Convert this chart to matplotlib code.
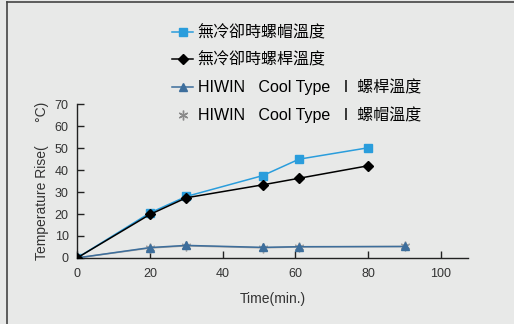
import matplotlib
matplotlib.use("Agg")
import matplotlib.pyplot as plt
from matplotlib.lines import Line2D

plt.rcParams['font.family'] = ['Liberation Sans Narrow', 'Liberation Sans', 'Noto Sans CJK TC', 'DejaVu Sans']

# data
t_hot = [0, 20, 30, 51, 61, 80]
nut_hot = [0, 20.5, 28, 37.5, 45, 50.2]      # 無冷卻時螺帽溫度
shaft_hot = [0, 19.8, 27.4, 33.3, 36.3, 42]  # 無冷卻時螺桿溫度
t_cool = [0, 20, 30, 51, 61, 90]
shaft_cool = [0, 4.7, 5.7, 4.8, 5.1, 5.2]    # HIWIN Cool Type I 螺桿溫度
nut_cool = [0, 4.5, 5.5, 4.6, 5.0, 5.2]      # HIWIN Cool Type I 螺帽溫度

labels = ['無冷卻時螺帽溫度', '無冷卻時螺桿溫度',
          'HIWIN   Cool Type   I  螺桿溫度',
          'HIWIN   Cool Type   I  螺帽溫度']
xticks = [0, 20, 40, 60, 80, 100]
yticks = [0, 10, 20, 30, 40, 50, 60, 70]

bg = '#e8e9e8'
fig = plt.figure(figsize=(5.14, 3.24), dpi=100, facecolor=bg)
ax = fig.add_axes([0.150, 0.204, 0.761, 0.474], facecolor=bg)

l1, = ax.plot(t_hot, nut_hot, color='#2a9ddc', marker='s', ms=6, lw=1.1, zorder=3)
l2, = ax.plot(t_hot, shaft_hot, color='black', marker='D', ms=5, lw=1.1, zorder=4)
l4, = ax.plot(t_cool, nut_cool, color='#a0a0a0', marker=(6, 2, 0), ms=7, lw=1.1, zorder=2)
l3, = ax.plot(t_cool, shaft_cool, color='#3d6e9c', marker='^', ms=6, lw=1.1, zorder=3)

ax.set_xlim(0, 107.5)
ax.set_ylim(0, 70)
ax.set_xticks(xticks)
ax.set_yticks(yticks)
for s in ['top', 'right']:
    ax.spines[s].set_visible(False)
for s in ['left', 'bottom']:
    ax.spines[s].set_color('#222222')
    ax.spines[s].set_linewidth(1.0)
ax.tick_params(direction='in', length=5, width=1, colors='#222222', labelsize=9, labelcolor='#333333')
ax.tick_params(axis='x', pad=7)
ax.tick_params(axis='y', pad=6)
ax.set_xlabel('Time(min.)', fontsize=10, color='#333333', labelpad=9)
ax.set_ylabel('Temperature Rise(      °C)', fontsize=10, color='#333333', labelpad=4)

# legend: the star series shows only its marker
h4 = Line2D([], [], color='#8a8a8a', marker=(6, 2, 0), ms=7, ls='none')
fig.legend([l1, l2, l3, h4], labels, loc='upper left', bbox_to_anchor=(0.335, 0.922),
           frameon=False, fontsize=11.5, labelspacing=0.7, handlelength=1.3, handletextpad=0.3,
           borderaxespad=0, borderpad=0)

# frame lines of the picture (top and left edge)
fig.add_artist(Line2D([0.014, 0.014], [0, 0.994], transform=fig.transFigure, color='#444444', lw=1.2))
fig.add_artist(Line2D([0.014, 1.0], [0.994, 0.994], transform=fig.transFigure, color='#444444', lw=1.2))

fig.savefig('out.png', dpi=100, facecolor=bg)
